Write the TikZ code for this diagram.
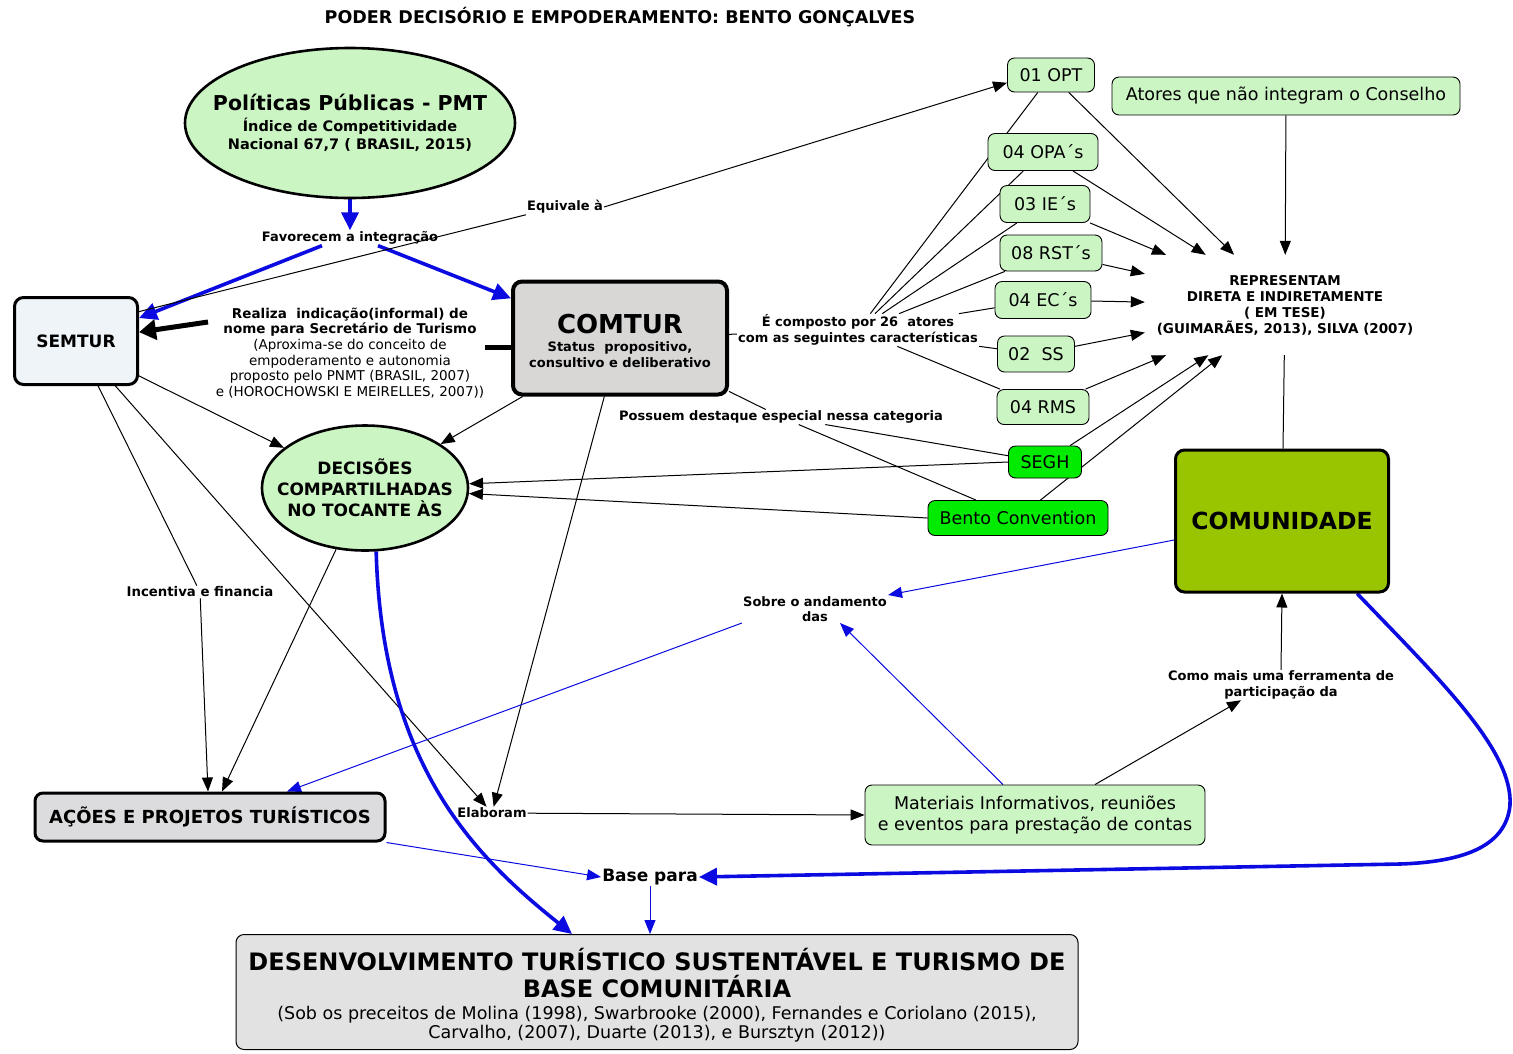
\documentclass[tikz,border=0pt]{standalone}
\usepackage{fontspec}
\setmainfont{DejaVu Sans}
\usetikzlibrary{arrows.meta,shapes.geometric,backgrounds}
\definecolor{pg}{RGB}{204,245,196}
\definecolor{bg}{RGB}{0,235,0}
\definecolor{cg}{RGB}{153,196,0}
\definecolor{gc}{RGB}{217,214,214}
\definecolor{gs}{RGB}{238,244,248}
\definecolor{ga}{RGB}{220,220,222}
\definecolor{gd}{RGB}{226,226,226}
\definecolor{myblue}{RGB}{10,10,225}
\tikzset{
  box/.style={draw, rounded corners=7pt, fill=pg, line width=0.9pt, inner sep=0pt, align=center, font=\fontsize{17.5}{21}\selectfont},
  gbox/.style={box, fill=bg},
  bigbox/.style={draw, rounded corners=9pt, line width=3pt, inner sep=0pt, align=center},
  ell/.style={ellipse, draw, line width=2.6pt, fill=pg, inner sep=0pt},
  lbl/.style={inner sep=1pt, align=center, font=\bfseries\fontsize{13}{15.5}\selectfont},
  ln/.style={line width=1pt},
  arr/.style={line width=1pt, -{Triangle[length=14pt,width=11pt]}},
  barr/.style={line width=1pt, draw=myblue, -{Triangle[length=14pt,width=11pt]}},
  bthick/.style={line width=3.6pt, draw=myblue, -{Triangle[length=18pt,width=17pt]}},
  kthick/.style={line width=5pt, -{Triangle[length=17pt,width=20pt]}},
}
\begin{document}
\begin{tikzpicture}[x=1pt,y=-1pt]
\useasboundingbox (0,0) rectangle (1513,1053);
% title
\node[lbl, font=\bfseries\fontsize{17.5}{20}\selectfont] (title) at (620,17) {PODER DECISÓRIO E EMPODERAMENTO: BENTO GONÇALVES};
% main nodes
\node[ell, minimum width=330pt, minimum height=150pt] (pp) at (350,123) {};
\node[inner sep=0pt, align=center, font=\bfseries\fontsize{14.5}{18}\selectfont] (ppt) at (pp.center)
  {{\fontsize{20.5}{24}\selectfont Políticas Públicas - PMT}\\[3pt]Índice de Competitividade\\Nacional 67,7 ( BRASIL, 2015)};
\node[lbl] (fav) at (350,238) {Favorecem a integração};
\node[lbl] (eq) at (565,207) {Equivale à};
\node[bigbox, fill=gs, minimum width=123pt, minimum height=87pt, font=\bfseries\fontsize{17}{20}\selectfont] (semtur) at (76,341) {SEMTUR};
\node[bigbox, line width=4pt, fill=gc, minimum width=214pt, minimum height=113pt] (comtur) at (620,338) {};
\node[inner sep=0pt, align=center, font=\bfseries\fontsize{13}{16}\selectfont] (comturt) at ([yshift=-3pt]comtur.center)
  {{\fontsize{26}{30}\selectfont COMTUR}\\[2pt]Status\ \ propositivo,\\consultivo e deliberativo};
\node[lbl, font=\fontsize{13.5}{15.6}\selectfont] (realiza) at (350,353)
  {\textbf{Realiza\ \ indicação(informal) de}\\\textbf{nome para Secretário de Turismo}\\(Aproxima-se do conceito de\\empoderamento e autonomia\\proposto pelo PNMT (BRASIL, 2007)\\e (HOROCHOWSKI E MEIRELLES, 2007))};
\node[ell, minimum width=206pt, minimum height=125pt] (dec) at (365,488) {};
\node[inner sep=0pt, align=center, font=\bfseries\fontsize{17}{21}\selectfont] (dect) at (dec.center)
  {DECISÕES\\COMPARTILHADAS\\NO TOCANTE ÀS};
\node[lbl, font=\bfseries\fontsize{13.3}{16}\selectfont] (inc) at (200,592) {Incentiva e financia};
\node[bigbox, fill=ga, rounded corners=8pt, minimum width=350pt, minimum height=48pt, font=\bfseries\fontsize{18}{21}\selectfont] (acoes) at (210,817) {AÇÕES E PROJETOS TURÍSTICOS};
\node[lbl] (elab) at (492,813) {Elaboram};
\node[box, minimum width=340pt, minimum height=60pt, font=\fontsize{17.5}{21}\selectfont] (mat) at (1035,815)
  {Materiais Informativos, reuniões\\e eventos para prestação de contas};
\node[lbl] (sobre) at (815,609) {Sobre o andamento\\das};
\node[lbl] (como) at (1281,685) {Como mais uma ferramenta de\\participação da};
\node[bigbox, fill=cg, minimum width=213pt, minimum height=142pt, font=\bfseries\fontsize{23.5}{27}\selectfont] (comu) at (1282,521) {COMUNIDADE};
\node[lbl, font=\bfseries\fontsize{17}{20}\selectfont] (base) at (650,877) {Base para};
\node[draw, rounded corners=8pt, line width=1pt, fill=gd, minimum width=842pt, minimum height=115pt, inner sep=0pt] (desenv) at (657,992) {};
\node[inner sep=0pt, align=center, font=\fontsize{17.5}{19}\selectfont] (desent) at ([yshift=-3pt]desenv.center)
  {{\bfseries\fontsize{24}{27}\selectfont DESENVOLVIMENTO TURÍSTICO SUSTENTÁVEL E TURISMO DE}\\[4pt]{\bfseries\fontsize{24}{27}\selectfont BASE COMUNITÁRIA}\\[3pt](Sob os preceitos de Molina (1998), Swarbrooke (2000), Fernandes e Coriolano (2015),\\Carvalho, (2007), Duarte (2013), e Bursztyn (2012))};
% right side actors
\node[box, minimum width=87pt, minimum height=34pt] (opt) at (1051,75) {01 OPT};
\node[box, minimum width=348pt, minimum height=38pt] (atores) at (1286,96) {Atores que não integram o Conselho};
\node[box, minimum width=110pt, minimum height=37pt] (opa) at (1043,152) {04 OPA´s};
\node[box, minimum width=90pt, minimum height=37pt] (ie) at (1045,204) {03 IE´s};
\node[box, minimum width=102pt, minimum height=36pt] (rst) at (1051,253) {08 RST´s};
\node[box, minimum width=96pt, minimum height=37pt] (ec) at (1043,300) {04 EC´s};
\node[box, minimum width=77pt, minimum height=36pt] (ss) at (1036,354) {02\ \ SS};
\node[box, minimum width=92pt, minimum height=35pt] (rms) at (1043,407) {04 RMS};
\node[gbox, minimum width=73pt, minimum height=32pt] (segh) at (1045,462) {SEGH};
\node[gbox, minimum width=180pt, minimum height=35pt] (bento) at (1018,518) {Bento Convention};
\node[lbl] (comp) at (858,330) {É composto por 26\ \ atores\\com as seguintes características};
\node[lbl, minimum width=280pt, minimum height=100pt, font=\bfseries\fontsize{13.5}{16}\selectfont] (repr) at (1285,305) {REPRESENTAM\\DIRETA E INDIRETAMENTE\\( EM TESE)\\(GUIMARÃES, 2013), SILVA (2007)};
\node[lbl] (poss) at (781,417) {Possuem destaque especial nessa categoria};

\begin{scope}[on background layer]
% top
\draw[bthick] (pp.south) -- (fav.north);
\draw[bthick] ([xshift=-28pt]fav.south) -- (semtur.20);
\draw[bthick] ([xshift=28pt]fav.south) -- (comtur.160);
\draw[arr] (eq.east) -- (opt.190);
\draw[ln] (eq.south west) -- (semtur.25);
% realiza
\draw[line width=5pt] (comtur.185) -- (comtur.185 -| realiza.east);
\coordinate (rz) at (208,322);
\draw[kthick] (rz) -- (semtur.8);
% to decisions
\draw[arr] (semtur.-29) -- (dec);
\draw[arr] (comtur.-149) -- (dec);
\draw[arr] (segh.west) -- (dec);
\draw[arr] (bento.west) -- (dec);
% lower left
\draw[ln] (semtur) -- (inc);
\draw[arr] (inc) -- ([xshift=-2pt]acoes.north);
\draw[arr] (semtur) -- (elab);
\draw[arr] (comtur) -- (elab);
\draw[arr] (dec) -- (acoes);
\draw[bthick] (dec.-80) .. controls (382,770) and (480,860) .. ([xshift=-85pt]desenv.north);
\draw[barr] (acoes.south east) -- (base.west);
\draw[arr] (elab) -- (mat.west);
\draw[barr] ([xshift=-32pt]mat.north) -- ([xshift=25pt]sobre.south);
\draw[arr] ([xshift=60pt]mat.north) -- ([xshift=-40pt]como.south);
\draw[arr] (como.north) -- (comu.south);
\draw[barr] (comu.-170) -- (sobre.north east);
\draw[barr] (sobre.south west) -- ([xshift=77pt]acoes.north);
\draw[bthick] (comu.-44) .. controls (1440,680) and (1513,750) .. (1510,805) .. controls (1506,848) and (1460,862) .. (1400,864) -- (base.east);
\draw[barr] (base.south) -- (base.south |- desenv.north);
% right side
\draw[ln] (comtur) -- (comp);
\foreach \n in {opt,opa,ie,rst,ec,ss,rms} \draw[ln] (comp) -- (\n);
\foreach \n in {opt,opa,atores,ie,rst,ec,ss,rms,segh,bento} \draw[arr] (\n) -- (repr);
\draw[ln] (repr) -- (comu);
\draw[ln] (comtur) -- (poss);
\draw[ln] (poss) -- (segh);
\draw[ln] (poss) -- (bento);
\end{scope}
\end{tikzpicture}
\end{document}
